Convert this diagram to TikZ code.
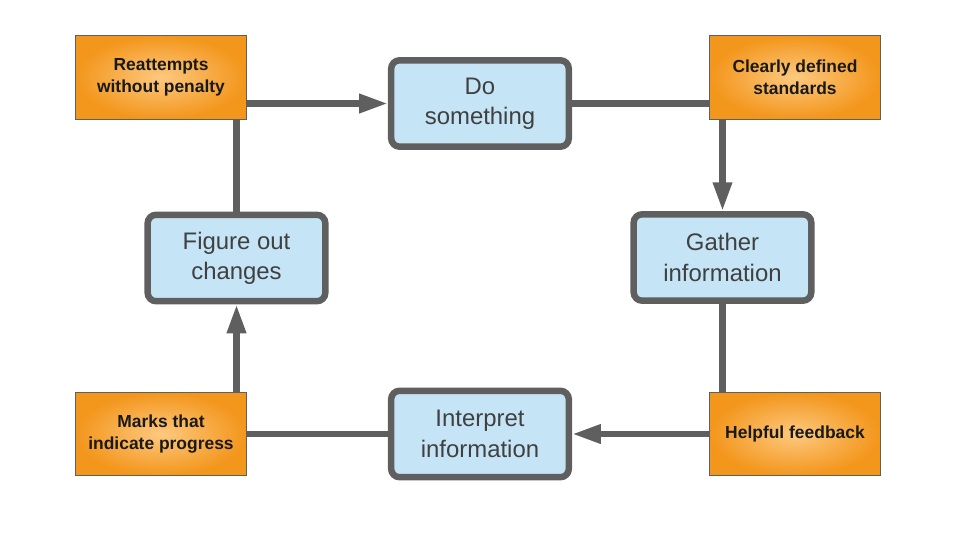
\documentclass[tikz,border=0pt]{standalone}
\usepackage{fontspec}
\setmainfont{Liberation Sans}
\usetikzlibrary{arrows.meta}
\definecolor{boxblue}{HTML}{C5E4F6}
\definecolor{edgegray}{HTML}{5F5F5F}
\definecolor{textgray}{HTML}{404040}
\definecolor{orangein}{HTML}{FDC97F}
\definecolor{orangeout}{HTML}{F3961C}
\tikzset{
  blockbox/.style={draw=edgegray, line width=4.6pt, fill=boxblue, rounded corners=6pt,
    minimum width=4.44cm, minimum height=2.16cm, align=center, text=textgray,
    font=\fontsize{17}{21.5}\selectfont},
  tagbox/.style={draw=edgegray, line width=0.7pt, inner color=orangein, outer color=orangeout,
    minimum width=4.25cm, minimum height=2.08cm, align=center, text=black!90,
    font=\bfseries\fontsize{12.4}{15.6}\selectfont},
  link/.style={draw=edgegray, line width=4.6pt},
  linkarrow/.style={link, -{Triangle[width=0.45cm, length=0.72cm]}}
}
\begin{document}
\begin{tikzpicture}[x=0.025cm, y=-0.025cm]
  \useasboundingbox (0,0) rectangle (960,540);

  % corner notes
  \node [tagbox] (retry) at (161, 77.5) {Reattempts\\without penalty};
  \node [tagbox] (standards) at (795, 77.5) {Clearly defined\\standards};
  \node [tagbox] (marks) at (161, 434) {Marks that\\indicate progress};
  \node [tagbox] (feedback) at (795, 434) {Helpful feedback};

  % the cycle
  \node [blockbox] (act) at (480, 103.5) {Do\\something};
  \node [blockbox] (gather) at (722.5, 257.5) {Gather\\information};
  \node [blockbox] (interpret) at (480, 434) {Interpret\\information};
  \node [blockbox] (change) at (236.5, 258) {Figure out\\changes};

  \draw [linkarrow] (retry.east |- act.west) -- (act.west);
  \draw [link] (act.east) -- (act.east -| standards.west);
  \draw [linkarrow] (standards.south -| gather.north) -- (gather.north);
  \draw [link] (gather.south) -- (gather.south |- feedback.north);
  \draw [linkarrow] (feedback.west |- interpret.east) -- (interpret.east);
  \draw [link] (interpret.west) -- (interpret.west -| marks.east);
  \draw [linkarrow] (marks.north -| change.south) -- (change.south);
  \draw [link] (change.north) -- (change.north |- retry.south);

\end{tikzpicture}
\end{document}
